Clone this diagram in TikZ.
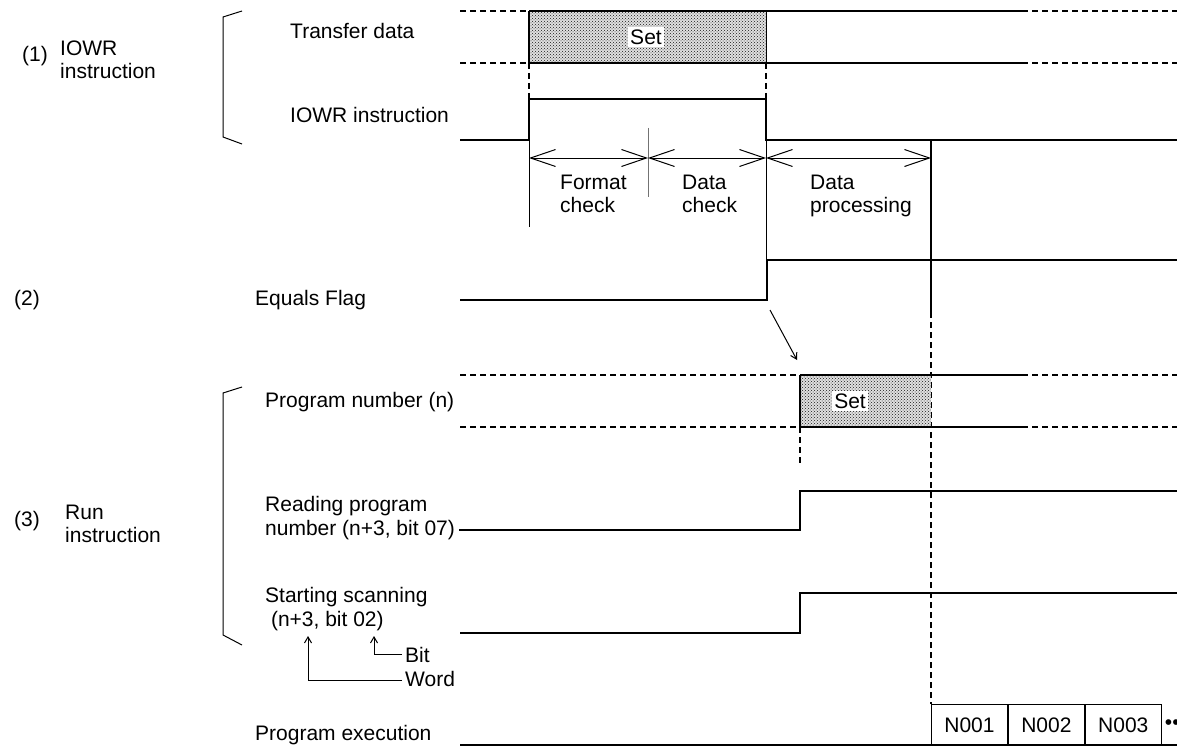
\documentclass[tikz,border=0pt]{standalone}
\usepackage{fontspec}
\setmainfont{Liberation Sans}
\usetikzlibrary{arrows.meta,patterns}
\begin{document}
\begin{tikzpicture}[x=1pt,y=-1pt,
  sig/.style={line width=1.7pt},
  thinl/.style={line width=0.7pt},
  dsh/.style={line width=1.3pt,dash pattern=on 6pt off 4pt},
  vdsh/.style={line width=1.2pt,dash pattern=on 6pt off 4pt},
  lbl/.style={font=\fontsize{21}{23.5}\selectfont,inner sep=0pt,anchor=west,align=left},
  dim/.style={line width=1pt,{Straight Barb[length=25pt,width=17pt]}-{Straight Barb[length=25pt,width=17pt]}},
  smallarr/.style={line width=1pt,-{Straight Barb[length=6pt,width=7pt]}},
  shadefill/.style={fill=black!12},
  shade/.style={pattern=crosshatch dots,pattern color=black!90},
  setlbl/.style={fill=white,inner sep=2.5pt,font=\fontsize{21}{23.5}\selectfont},
  brk/.style={line width=1pt},
  nbox/.style={draw,line width=0.9pt,minimum width=76pt,minimum height=41pt,inner sep=0pt,font=\fontsize{21}{23.5}\selectfont}
]
\clip (0,0) rectangle (1177,749);
\fill[white] (0,0) rectangle (1177,749);

% ---------- left labels ----------
\node[lbl] (n1) at (22,56) {(1)};
\node[lbl] (t1) at (60,60) {IOWR\\instruction};
\node[lbl] (n2) at (14,300) {(2)};
\node[lbl] (n3) at (14,521) {(3)};
\node[lbl] (t3) at (65,524) {Run\\instruction};

% brackets
\draw[brk] (242,11) -- (223,17) -- (223,137) -- (242,144);
\draw[brk] (242,387) -- (223,393) -- (223,635) -- (242,645);

% ---------- signal names ----------
\node[lbl] (ltd) at (290,31) {Transfer data};
\node[lbl] (liowr) at (290,115) {IOWR instruction};
\node[lbl] (leq) at (255,300) {Equals Flag};
\node[lbl] (lpn) at (265,402) {Program number (n)};
\node[lbl] (lrd) at (265,518) {Reading program\\number (n+3, bit 07)};
\node[lbl] (lst) at (265,609) {Starting scanning\\\ (n+3, bit 02)};
\node[lbl] (lbit) at (405,655) {Bit};
\node[lbl] (lword) at (405,679) {Word};
\node[lbl] (lpe) at (255,735) {Program execution};

% ---------- Transfer data ----------
\draw[dsh] (460,11) -- (529,11);
\draw[dsh] (460,63) -- (529,63);
\fill[shadefill] (529,11) rectangle (766,63);
\fill[shade] (529,11) rectangle (766,63);
\node[setlbl] (set1) at (646,37) {Set};
\draw[sig] (529,11) -- (1022,11);
\draw[sig] (529,63) -- (1022,63);
\draw[dsh] (1022,11) -- (1177,11);
\draw[dsh] (1022,63) -- (1177,63);
\draw[sig] (529,11) -- (529,63);
\draw[thinl] (766,11) -- (766,63);
\draw[vdsh] (529,63) -- (529,99);
\draw[vdsh] (766,63) -- (766,99);

% ---------- IOWR instruction ----------
\draw[sig] (460,140) -- (529,140) -- (529,99) -- (766,99) -- (766,140) -- (1177,140);

% timing marks
\draw[thinl] (529,140) -- (529,227);
\draw[line width=0.7pt,black!55] (648,128) -- (648,197);
\draw[thinl] (766,140) -- (766,260);
\coordinate (a0) at (529,158);
\coordinate (a1) at (648,158);
\coordinate (a2) at (766,158);
\coordinate (a3) at (931,158);
\draw[dim] (a0) -- (a1);
\draw[dim] (a1) -- (a2);
\draw[dim] (a2) -- (a3);
\node[lbl] (fc) at (560,194) {Format\\check};
\node[lbl] (dc) at (682,194) {Data\\check};
\node[lbl] (dp) at (810,196) {Data\\processing};

% end-of-processing line
\draw[sig] (931,140) -- (931,312);
\draw[vdsh] (931,312) -- (931,704);

% ---------- Equals flag ----------
\draw[sig] (460,300) -- (767,300) -- (767,260) -- (1177,260);
\coordinate (d0) at (770,310);
\coordinate (d1) at (797,360);
\draw[smallarr] (d0) -- (d1);

% ---------- Program number ----------
\draw[dsh] (460,375) -- (800,375);
\draw[dsh] (460,427) -- (800,427);
\fill[shadefill] (800,375) rectangle (931,427);
\fill[shade] (800,375) rectangle (931,427);
\node[setlbl] (set2) at (850,401) {Set};
\draw[sig] (800,375) -- (1022,375);
\draw[sig] (800,427) -- (1022,427);
\draw[dsh] (1022,375) -- (1177,375);
\draw[dsh] (1022,427) -- (1177,427);
\draw[sig] (800,375) -- (800,427);
\draw[vdsh] (800,427) -- (800,465);

% ---------- Reading program number ----------
\draw[sig] (459,530) -- (800,530) -- (800,491) -- (1177,491);

% ---------- Starting scanning ----------
\draw[sig] (460,633) -- (800,633) -- (800,593) -- (1177,593);

% Bit / Word pointers
\coordinate (bw0) at (402,680);
\coordinate (bw1) at (308,680);
\coordinate (bw2) at (308,636);
\draw[smallarr] (bw0) -- (bw1) -- (bw2);
\coordinate (bb0) at (402,654);
\coordinate (bb1) at (374,654);
\coordinate (bb2) at (374,636);
\draw[smallarr] (bb0) -- (bb1) -- (bb2);

% ---------- Program execution ----------
\node[nbox,anchor=north west] (p1) at (931,704) {N001};
\node[nbox,anchor=west] (p2) at (p1.east) {N002};
\node[nbox,anchor=west] (p3) at (p2.east) {N003};
\node[font=\fontsize{21}{23.5}\selectfont,anchor=west,inner sep=0pt] (pd) at ([xshift=3pt]p3.east) {••};
\draw[sig] (460,745) -- (1177,745);
\end{tikzpicture}
\end{document}
